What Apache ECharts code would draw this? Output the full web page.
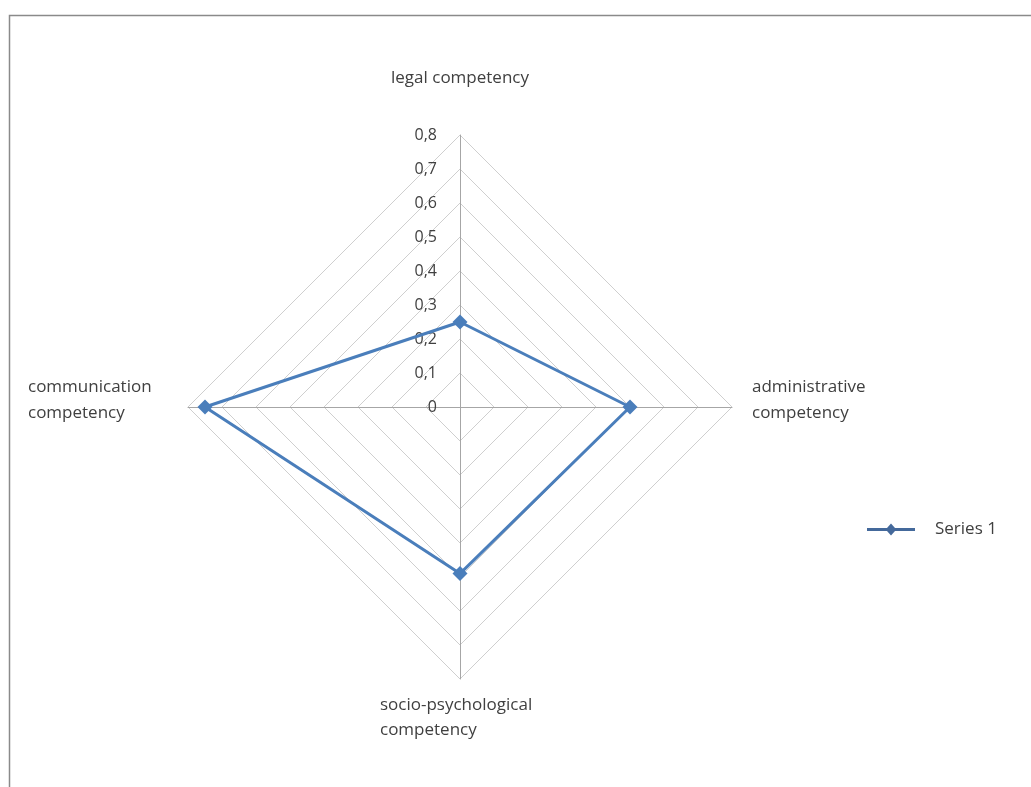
<!DOCTYPE html>
<html>
<head>
<meta charset="utf-8">
<script src="https://cdn.jsdelivr.net/npm/echarts@6/dist/echarts.min.js"></script>
<style>
html,body{margin:0;padding:0;background:#fff;}
#chart{width:1031px;height:787px;}
</style>
</head>
<body>
<div id="chart"></div>
<script>
// Competency profile: four indicators, one series (listed clockwise from the top)
const indicators = ['legal competency', 'administrative competency', 'socio-psychological competency', 'communication competency'];
const series1 = [0.25, 0.5, 0.49, 0.75];
const scaleMax = 0.8;
const scaleStep = 0.1;
const seriesName = 'Series 1';

const FONT = '"Open Sans", "Liberation Sans", sans-serif';
const TEXT = '#404040';
const BLUE = '#4a7ebb';

const cx = 460, cy = 407, R = 272;

// ECharts lays radar axes out counter-clockwise, so feed them reversed after the first
const order = [0, 3, 2, 1];
const radarNames = order.map(i => indicators[i]);
const radarValues = order.map(i => series1[i]);

// Names broken onto two lines where the text wraps
const nameLines = {
  'legal competency': ['legal competency'],
  'administrative competency': ['administrative', 'competency'],
  'socio-psychological competency': ['socio-psychological', 'competency'],
  'communication competency': ['communication', 'competency']
};
const nameSide = {
  'legal competency': 'top',
  'administrative competency': 'right',
  'socio-psychological competency': 'bottom',
  'communication competency': 'left'
};

const base = { fontFamily: FONT, fontSize: 17, color: TEXT };

function formatName(name) {
  const side = nameSide[name];
  let s = '{' + side + '|' + nameLines[name].join('\n') + '}';
  // extra blank line lifts the top name further above the axis end
  if (side === 'top') s += '\n{sp|}';
  return s;
}

const chart = echarts.init(document.getElementById('chart'));
chart.setOption({
  backgroundColor: '#fff',
  animation: false,
  textStyle: { fontFamily: FONT },
  graphic: [{
    type: 'rect', left: 7, top: 13, silent: true,
    shape: { width: 1040, height: 800 },
    style: { fill: 'none', stroke: '#8a8a8a', lineWidth: 1.5 }
  }],
  legend: {
    data: [seriesName],
    left: 862, top: 516,
    itemWidth: 48, itemHeight: 12,
    icon: 'path://M0,4.6 L20,4.6 L24,0 L28,4.6 L48,4.6 L48,7.4 L28,7.4 L24,12 L20,7.4 L0,7.4 Z',
    itemStyle: { color: '#44699b' },
    textStyle: { fontFamily: FONT, fontSize: 17, color: TEXT, padding: [0, 0, 0, 15] }
  },
  radar: {
    center: [cx, cy],
    radius: R,
    shape: 'polygon',
    startAngle: 90,
    splitNumber: Math.round(scaleMax / scaleStep),
    indicator: radarNames.map(n => ({ name: n, min: 0, max: scaleMax })),
    nameGap: 14,
    axisName: Object.assign({}, base, {
      formatter: formatName,
      rich: {
        top: Object.assign({}, base, { lineHeight: 26 }),
        sp: { fontSize: 10, lineHeight: 30, height: 30 },
        right: Object.assign({}, base, { lineHeight: 26, padding: [0, 0, 14, 6] }),
        bottom: Object.assign({}, base, { lineHeight: 25, width: 160, align: 'left' }),
        left: Object.assign({}, base, { lineHeight: 26, width: 140, align: 'left', padding: [0, 6, 14, 0] })
      }
    }),
    axisLine: { lineStyle: { color: '#a6a6a6', width: 1 } },
    splitLine: { lineStyle: { color: '#cfcfcf', width: 1 } },
    splitArea: { show: false },
    axisTick: { show: false },
    axisLabel: { show: false }
  },
  // Scale labels along the upright axis
  grid: { left: cx, top: cy - R, width: 1, height: R },
  xAxis: { type: 'value', show: false },
  yAxis: {
    type: 'value', min: 0, max: scaleMax, interval: scaleStep,
    axisLine: { show: false }, axisTick: { show: false }, splitLine: { show: false },
    axisLabel: {
      margin: 23, fontFamily: FONT, fontSize: 16, color: TEXT,
      formatter: v => (Math.round(v * 10) / 10).toString().replace('.', ',')
    }
  },
  series: [{
    name: seriesName,
    type: 'radar',
    symbol: 'diamond',
    symbolSize: 15,
    lineStyle: { color: BLUE, width: 3 },
    itemStyle: { color: BLUE },
    data: [{ value: radarValues, name: seriesName }]
  }]
});
</script>
</body>
</html>
